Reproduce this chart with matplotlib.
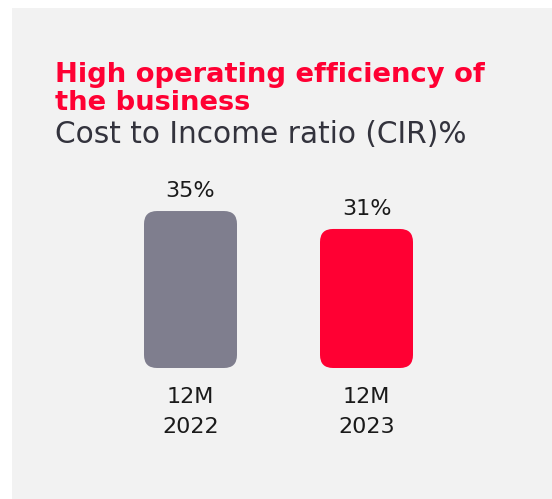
import matplotlib
matplotlib.use("Agg")
import matplotlib.pyplot as plt
from matplotlib.patches import FancyBboxPatch, Rectangle

categories = ["12M\n2022", "12M\n2023"]
values = [35, 31]
value_labels = ["35%", "31%"]
colors = ["#7f7e8e", "#ff0033"]

W, H = 552, 499
fig = plt.figure(figsize=(W / 100, H / 100), dpi=100)
fig.patch.set_facecolor("white")

# background panel
fig.patches.append(Rectangle((12 / W, 0), 1 - 12 / W, 1 - 8 / H,
                             transform=fig.transFigure, facecolor="#f2f2f2",
                             edgecolor="none", zorder=-10))

def px(x, y):
    return x / W, 1 - y / H

fig.text(*px(55, 82), "High operating efficiency of", color="#ff0033",
         fontsize=19.7, fontweight="bold", family="DejaVu Sans", va="baseline")
fig.text(*px(55, 110), "the business", color="#ff0033",
         fontsize=19.7, fontweight="bold", family="DejaVu Sans", va="baseline")
fig.text(*px(55, 143), "Cost to Income ratio (CIR)%", color="#33333d",
         fontsize=21.3, family="DejaVu Sans", va="baseline")

# axes: xlim [-0.5, 1.5] -> 102.5..454.5 px ; ylim 0..40 with baseline 368
unit_y = 4.485
ax_left, ax_right = 102.5, 454.5
ax_bottom = 368
ax_top = ax_bottom - 40 * unit_y
ax = fig.add_axes([ax_left / W, 1 - ax_bottom / H, (ax_right - ax_left) / W,
                   (ax_bottom - ax_top) / H])
ax.set_zorder(5)
ax.set_xlim(-0.5, 1.5)
ax.set_ylim(0, 40)
ax.patch.set_alpha(0)
for s in ax.spines.values():
    s.set_visible(False)

bw = 93 / 176
rx = 13 / 176
ry = 13 / unit_y
bars = ax.bar(range(len(values)), values, width=bw, color=colors)
for b, c in zip(bars, colors):
    b.set_visible(False)
    p = FancyBboxPatch((b.get_x(), b.get_y()), b.get_width(), b.get_height(),
                       boxstyle=f"round,pad=0,rounding_size={rx}",
                       mutation_aspect=ry / rx, facecolor=c, edgecolor="none")
    ax.add_patch(p)

for i, (v, lab) in enumerate(zip(values, value_labels)):
    ax.annotate(lab, (i, v), xytext=(0, 14 * 0.72), textcoords="offset points",
                ha="center", va="baseline", fontsize=16, color="#1a1a1a",
                family="DejaVu Sans")

ax.set_yticks([])
ax.set_xticks(range(len(categories)))
ax.set_xticklabels(categories, fontsize=16, color="#1a1a1a",
                   family="DejaVu Sans", linespacing=1.6)
ax.tick_params(axis="x", length=0, pad=14)

fig.savefig("out.png", dpi=100, facecolor=fig.get_facecolor())
